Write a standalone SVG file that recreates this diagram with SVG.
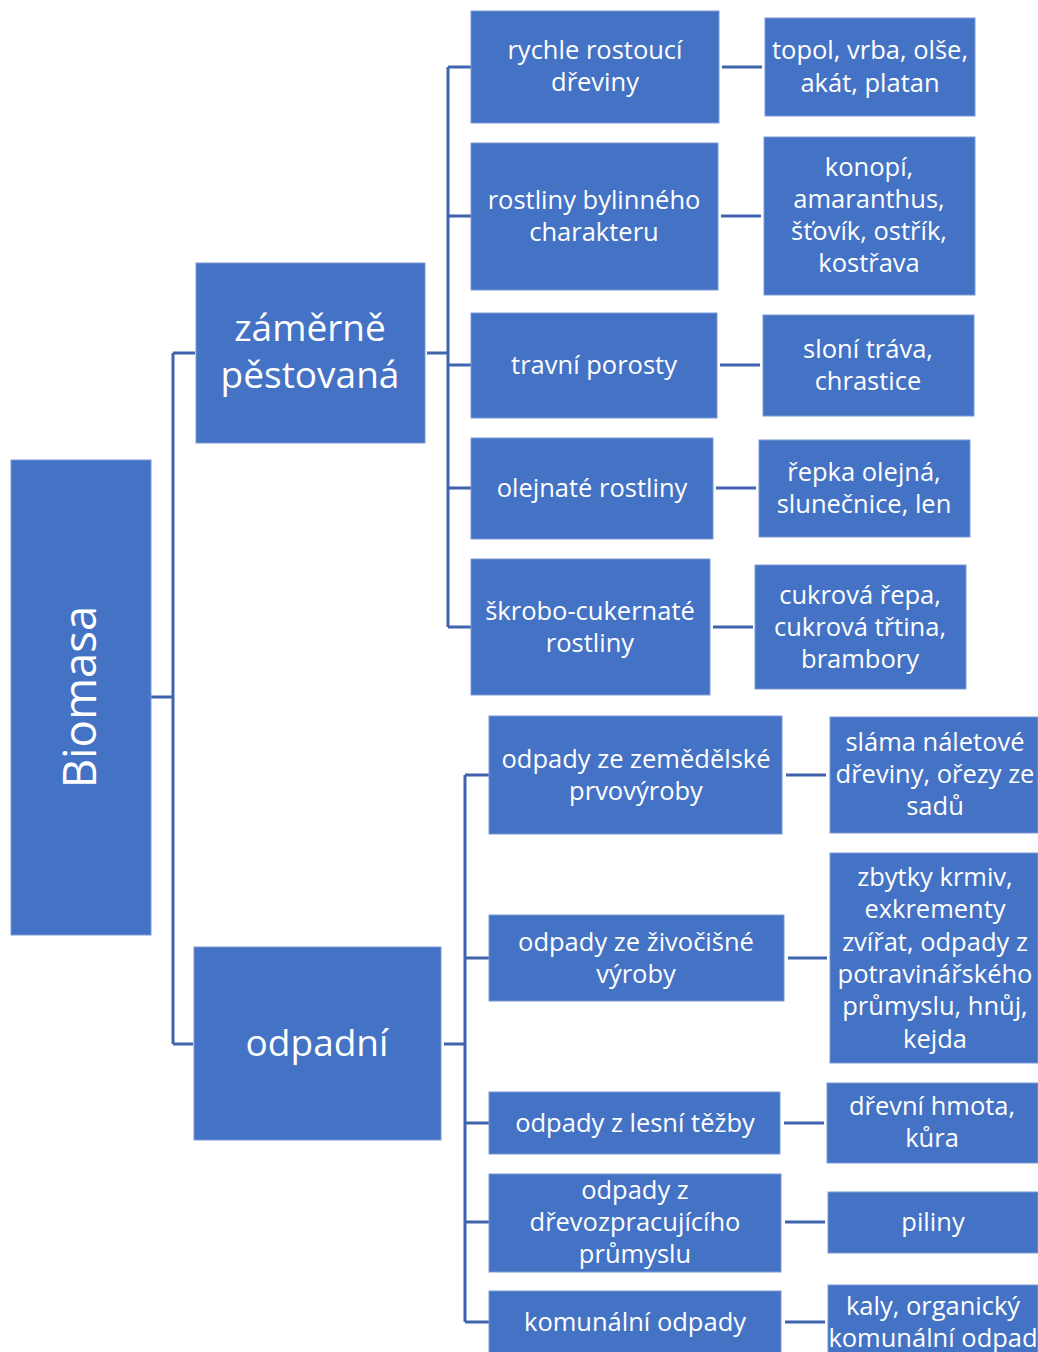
<svg xmlns="http://www.w3.org/2000/svg" width="1038" height="1352" viewBox="0 0 1038 1352">
<style>
.box{fill:#4472C4;stroke:#7b9ad6;stroke-width:1}
.t{fill:#ffffff;font-family:"Open Sans","Noto Sans",sans-serif;font-size:25.5px;text-anchor:middle}
.big{font-size:37px}
.con{fill:none;stroke:#3F63AD;stroke-width:3}
</style>
<rect width="1038" height="1352" fill="#ffffff"/>
<g id="connectors" class="con">
<path d="M151 697H173M173 353V1044M173 353H195M173 1044H193"/>
<path d="M427 353H448M448 67V627M448 67H471M448 216H471M448 365H471M448 488H471M448 627H471"/>
<path d="M722 67H762M721 216H761M720 365H760M716 488H756M713 627H753"/>
<path d="M444 1044H465M465 775V1322M465 775H489M465 958H489M465 1123H489M465 1222H489M465 1322H489"/>
<path d="M786 775H826M788 958H827M784 1123H824M785 1222H825M785 1322H825"/>
</g>
<g id="biomasa"><rect class="box" x="11" y="460" width="140" height="475"/><text class="t" transform="translate(96 697) rotate(-90)" style="font-size:45.5px">Biomasa</text></g>
<g id="zamerne"><rect class="box" x="196" y="263" width="229" height="180"/><text class="t big" x="310" y="341">záměrně</text><text class="t big" x="310" y="388">pěstovaná</text></g>
<g id="odpadni"><rect class="box" x="194" y="947" width="247" height="193"/><text class="t big" x="317" y="1056">odpadní</text></g>

<g id="n1"><rect class="box" x="471" y="11" width="248" height="112"/><text class="t" x="595" y="59">rychle rostoucí</text><text class="t" x="595" y="91">dřeviny</text></g>
<g id="l1"><rect class="box" x="765" y="18" width="210" height="98"/><text class="t" x="870" y="59">topol, vrba, olše,</text><text class="t" x="870" y="92">akát, platan</text></g>
<g id="n2"><rect class="box" x="471" y="143" width="247" height="147"/><text class="t" x="594" y="209">rostliny bylinného</text><text class="t" x="594" y="241">charakteru</text></g>
<g id="l2"><rect class="box" x="764" y="137" width="211" height="158"/><text class="t" x="869" y="176">konopí,</text><text class="t" x="869" y="208">amaranthus,</text><text class="t" x="869" y="240">šťovík, ostřík,</text><text class="t" x="869" y="272">kostřava</text></g>
<g id="n3"><rect class="box" x="471" y="313" width="246" height="105"/><text class="t" x="594" y="374">travní porosty</text></g>
<g id="l3"><rect class="box" x="763" y="315" width="211" height="101"/><text class="t" x="868" y="358">sloní tráva,</text><text class="t" x="868" y="390">chrastice</text></g>
<g id="n4"><rect class="box" x="471" y="438" width="242" height="101"/><text class="t" x="592" y="497">olejnaté rostliny</text></g>
<g id="l4"><rect class="box" x="759" y="440" width="211" height="97"/><text class="t" x="864" y="481">řepka olejná,</text><text class="t" x="864" y="513">slunečnice, len</text></g>
<g id="n5"><rect class="box" x="471" y="559" width="239" height="136"/><text class="t" x="590" y="620">škrobo-cukernaté</text><text class="t" x="590" y="652">rostliny</text></g>
<g id="l5"><rect class="box" x="755" y="565" width="211" height="124"/><text class="t" x="860" y="604">cukrová řepa,</text><text class="t" x="860" y="636">cukrová třtina,</text><text class="t" x="860" y="668">brambory</text></g>

<g id="n6"><rect class="box" x="489" y="716" width="293" height="118"/><text class="t" x="636" y="768">odpady ze zemědělské</text><text class="t" x="636" y="800">prvovýroby</text></g>
<g id="l6"><rect class="box" x="830" y="717" width="208" height="116"/><text class="t" x="935" y="751">sláma náletové</text><text class="t" x="935" y="783">dřeviny, ořezy ze</text><text class="t" x="935" y="815">sadů</text></g>
<g id="n7"><rect class="box" x="489" y="915" width="295" height="86"/><text class="t" x="636" y="951">odpady ze živočišné</text><text class="t" x="636" y="983">výroby</text></g>
<g id="l7"><rect class="box" x="830" y="853" width="208" height="210"/><text class="t" x="935" y="886">zbytky krmiv,</text><text class="t" x="935" y="918">exkrementy</text><text class="t" x="935" y="951">zvířat, odpady z</text><text class="t" x="935" y="983">potravinářského</text><text class="t" x="935" y="1015">průmyslu, hnůj,</text><text class="t" x="935" y="1048">kejda</text></g>
<g id="n8"><rect class="box" x="489" y="1092" width="291" height="62"/><text class="t" x="635" y="1132">odpady z lesní těžby</text></g>
<g id="l8"><rect class="box" x="827" y="1083" width="211" height="80"/><text class="t" x="932" y="1115">dřevní hmota,</text><text class="t" x="932" y="1147">kůra</text></g>
<g id="n9"><rect class="box" x="489" y="1174" width="292" height="98"/><text class="t" x="635" y="1199">odpady z</text><text class="t" x="635" y="1231">dřevozpracujícího</text><text class="t" x="635" y="1263">průmyslu</text></g>
<g id="l9"><rect class="box" x="828" y="1192" width="210" height="61"/><text class="t" x="933" y="1231">piliny</text></g>
<g id="n10"><rect class="box" x="489" y="1291" width="292" height="70"/><text class="t" x="635" y="1331">komunální odpady</text></g>
<g id="l10"><rect class="box" x="828" y="1285" width="210" height="76"/><text class="t" x="933" y="1315">kaly, organický</text><text class="t" x="933" y="1347">komunální odpad</text></g>
</svg>
